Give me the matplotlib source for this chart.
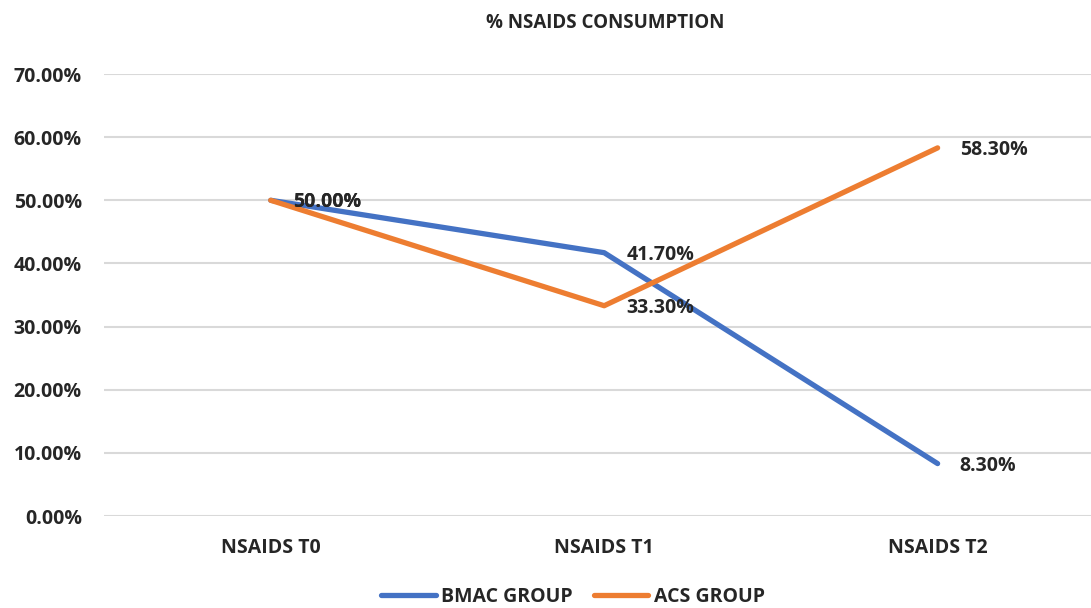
import matplotlib.pyplot as plt
from matplotlib.ticker import FuncFormatter

plt.rcParams['font.family'] = ['Open Sans', 'DejaVu Sans']
plt.rcParams['font.weight'] = 'bold'

categories = ['NSAIDS T0', 'NSAIDS T1', 'NSAIDS T2']
bmac = [50.0, 41.7, 8.3]
acs = [50.0, 33.3, 58.3]
series_names = ['BMAC GROUP', 'ACS GROUP']
yticks = [0, 10, 20, 30, 40, 50, 60, 70]

text_col = '#262626'
blue = '#4472C4'
orange = '#ED7D31'
fs = 14

fig = plt.figure(figsize=(10.91, 6.08), dpi=100)
ax = fig.add_axes([104 / 1091, 92 / 608, 987 / 1091, 442 / 608])

x = list(range(len(categories)))
ax.plot(x, bmac, color=blue, lw=3.8, solid_capstyle='round', label=series_names[0], zorder=3)
ax.plot(x, acs, color=orange, lw=3.8, solid_capstyle='round', label=series_names[1], zorder=3)

# data labels, right of each point
for vals in (bmac, acs):
    for xi, v in zip(x, vals):
        ax.annotate(f'{v:.2f}%', (xi, v), xytext=(16, -1.5), textcoords='offset points',
                    ha='left', va='center', fontsize=fs, fontweight='bold', color=text_col, zorder=4)

ax.set_xlim(-0.5, 2.46)
ax.set_ylim(0, 70)
ax.set_yticks(yticks)
ax.yaxis.set_major_formatter(FuncFormatter(lambda v, p: f'{v:.2f}%'))
ax.set_xticks(x)
ax.set_xticklabels(categories)
ax.grid(axis='y', color='#D9D9D9', lw=1.5)
ax.set_axisbelow(True)
for s in ax.spines.values():
    s.set_visible(False)
ax.tick_params(axis='both', length=0, labelsize=fs, labelcolor=text_col)
ax.tick_params(axis='y', pad=16)
ax.tick_params(axis='x', pad=16)
for lbl in ax.get_xticklabels() + ax.get_yticklabels():
    lbl.set_fontweight('bold')

fig.text(605 / 1091, 1 - 23 / 608, '% NSAIDS CONSUMPTION', ha='center', va='center',
         fontsize=13.5, fontweight='bold', color=text_col)

leg = fig.legend(loc='center', bbox_to_anchor=(573 / 1091, 1 - 597 / 608), ncol=2, frameon=False,
                 fontsize=fs, handlelength=2.8, columnspacing=1.1, handletextpad=0.26)
for t in leg.get_texts():
    t.set_color(text_col)
    t.set_fontweight('bold')

fig.savefig('out.png', dpi=100)
